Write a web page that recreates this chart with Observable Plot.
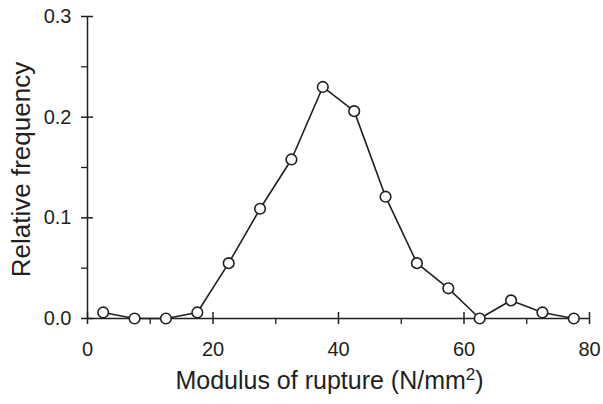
<!DOCTYPE html>
<html>
<head>
<meta charset="utf-8">
<script src="https://cdn.jsdelivr.net/npm/d3@7"></script>
<script src="https://cdn.jsdelivr.net/npm/@observablehq/plot@0.6"></script>
<style>
  html, body { margin: 0; padding: 0; background: #fff; }
  #chart svg { display: block; }
</style>
</head>
<body>
<div id="chart"></div>
<script>
// Data
const binCenters = [2.5, 7.5, 12.5, 17.5, 22.5, 27.5, 32.5, 37.5, 42.5, 47.5, 52.5, 57.5, 62.5, 67.5, 72.5, 77.5];
const frequency  = [0.006, 0, 0, 0.006, 0.055, 0.109, 0.158, 0.230, 0.206, 0.121, 0.055, 0.030, 0, 0.018, 0.006, 0];
const xMajorTicks = [0, 20, 40, 60, 80];
const xMinorTicks = [10, 30, 50, 70];
const yMajorTicks = [0, 0.1, 0.2, 0.3];
const yMinorTicks = [0.05, 0.15, 0.25];
const xLabel = "Modulus of rupture (N/mm2)";
const yLabel = "Relative frequency";

const data = binCenters.map((x, i) => ({x, y: frequency[i]}));
const ink = "#231f20";

const chart = Plot.plot({
  width: 603,
  height: 404,
  marginTop: 16,
  marginLeft: 87,
  marginRight: 14,
  marginBottom: 86,
  style: {fontFamily: "'Liberation Sans', Arial, Helvetica, sans-serif", fontSize: "20px", color: ink, background: "#fff"},
  x: {domain: [0, 80]},
  y: {domain: [0, 0.3]},
  marks: [
    Plot.ruleY([0], {stroke: ink, strokeWidth: 1.5}),
    Plot.ruleX([0], {stroke: ink, strokeWidth: 1.5}),
    Plot.ruleX(xMajorTicks, {x: d => d, y1: 0, y2: 0, insetTop: -6, insetBottom: -6, stroke: ink, strokeWidth: 1.5}),
    Plot.ruleX(xMinorTicks, {x: d => d, y1: 0, y2: 0, insetTop: 0, insetBottom: -6, stroke: ink, strokeWidth: 1.3}),
    Plot.ruleY(yMajorTicks, {y: d => d, x1: 0, x2: 0, insetLeft: -6, insetRight: -6, stroke: ink, strokeWidth: 1.5}),
    Plot.ruleY(yMinorTicks, {y: d => d, x1: 0, x2: 0, insetLeft: -6, insetRight: 0, stroke: ink, strokeWidth: 1.3}),
    Plot.axisX({ticks: xMajorTicks, tickSize: 0, tickPadding: 23, tickFormat: d => String(d), label: null, fontSize: 20, fill: ink}),
    Plot.axisY({ticks: yMajorTicks, tickSize: 0, tickPadding: 16, tickFormat: d3.format(".1f"), label: null, fontSize: 20, fill: ink}),
    Plot.line(data, {x: "x", y: "y", stroke: ink, strokeWidth: 1.6}),
    Plot.dot(data, {x: "x", y: "y", r: 5.3, fill: "white", stroke: ink, strokeWidth: 1.6}),
    Plot.text([xLabel], {text: d => d, frameAnchor: "bottom", textAnchor: "middle", dx: -9, dy: 70, fontSize: 25, fill: ink}),
    Plot.text([yLabel], {text: d => d, frameAnchor: "left", textAnchor: "middle", rotate: -90, dx: -66, dy: 2, fontSize: 26, fill: ink})
  ]
});

document.getElementById("chart").appendChild(chart);

// Render the "2" in N/mm2 as a superscript
d3.select(chart).selectAll("text").each(function() {
  const t = d3.select(this);
  if (t.text() === xLabel) {
    t.text(null);
    t.append("tspan").text("Modulus of rupture (N/mm");
    t.append("tspan").attr("font-size", "17px").attr("dy", "-9").text("2");
    t.append("tspan").attr("dy", "9").text(")");
  }
});
</script>
</body>
</html>
